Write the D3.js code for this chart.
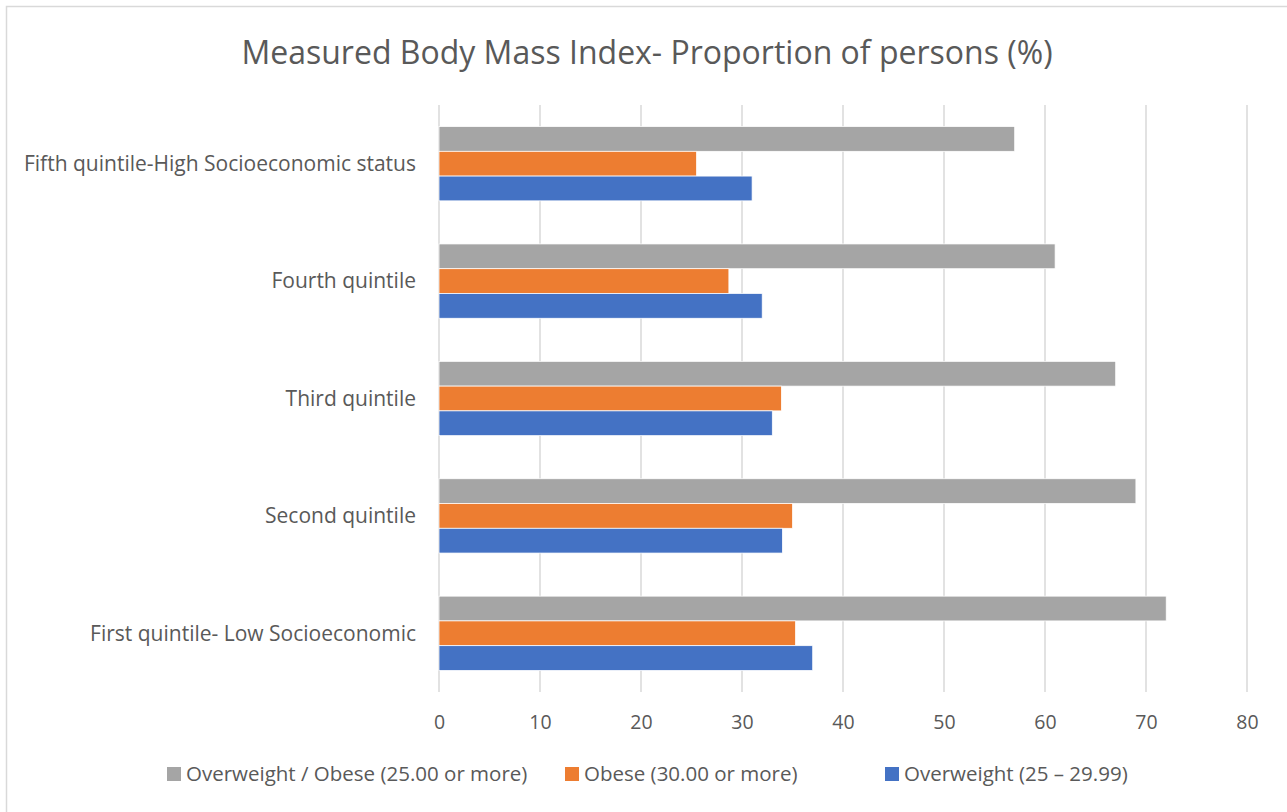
<!DOCTYPE html>
<html>
<head>
<meta charset="utf-8">
<script src="https://cdn.jsdelivr.net/npm/d3@7"></script>
<style>
  body { margin: 0; background: #fff; }
  svg text { font-family: "Open Sans", "Noto Sans", sans-serif; fill: #595959; }
</style>
</head>
<body>
<div id="chart"></div>
<script>
"use strict";

// categories, top to bottom as drawn
var categories = [
    "Fifth quintile-High Socioeconomic status",
    "Fourth quintile",
    "Third quintile",
    "Second quintile",
    "First quintile- Low Socioeconomic"
];
var seriesNames = [
    "Overweight / Obese (25.00 or more)",
    "Obese (30.00 or more)",
    "Overweight (25 \u2013 29.99)"
];
var seriesColors = ["#a5a5a5", "#ed7d31", "#4472c4"];
var overweightObese = [57, 61, 67, 69, 72];
var obese = [25.5, 28.7, 33.9, 35, 35.3];
var overweight = [31, 32, 33, 34, 37];
var xTicks = [0, 10, 20, 30, 40, 50, 60, 70, 80];

var W = 1287, H = 812;
var margin = { top: 105, right: 40, bottom: 120, left: 439 };
var width = 1247 - margin.left;
var height = 692 - margin.top;

var svg = d3.select("#chart").append("svg")
    .attr("width", W)
    .attr("height", H);

// chart border
svg.append("rect")
    .attr("x", 6.5).attr("y", 6.5)
    .attr("width", W + 10).attr("height", H + 10)
    .attr("fill", "none")
    .attr("stroke", "#d9d9d9")
    .attr("stroke-width", 1.5);

svg.append("text")
    .attr("x", 647)
    .attr("y", 64)
    .attr("text-anchor", "middle")
    .style("font-size", "32px")
    .text("Measured Body Mass Index- Proportion of persons (%)");

var g = svg.append("g")
    .attr("transform", "translate(" + margin.left + "," + margin.top + ")");

var x = d3.scaleLinear().domain([0, 80]).range([0, width]);
var y0 = d3.scaleBand().domain(categories).range([0, height]);
var y1 = d3.scaleBand().domain(seriesNames).range([0, y0.bandwidth()]).paddingOuter(0.87);

// gridlines
g.selectAll("line.grid")
    .data(xTicks)
    .enter()
    .append("line")
    .attr("class", "grid")
    .attr("x1", function(d) { return x(d); })
    .attr("x2", function(d) { return x(d); })
    .attr("y1", 0)
    .attr("y2", height)
    .attr("stroke", "#d9d9d9")
    .attr("stroke-width", 1.5);

var rows = categories.map(function(c, i) {
    return { cat: c, values: [overweightObese[i], obese[i], overweight[i]] };
});

var groups = g.selectAll("g.cat")
    .data(rows)
    .enter()
    .append("g")
    .attr("class", "cat")
    .attr("transform", function(d) { return "translate(0," + y0(d.cat) + ")"; });

groups.selectAll("rect")
    .data(function(d) { return d.values.map(function(v, j) { return { s: seriesNames[j], v: v, c: seriesColors[j] }; }); })
    .enter()
    .append("rect")
    .attr("x", x(0))
    .attr("y", function(d) { return y1(d.s); })
    .attr("width", function(d) { return x(d.v) - x(0); })
    .attr("height", y1.bandwidth())
    .attr("fill", function(d) { return d.c; })
    .attr("stroke", "#fff")
    .attr("stroke-width", 0.75);

// category labels
g.selectAll("text.cat")
    .data(categories)
    .enter()
    .append("text")
    .attr("class", "cat")
    .attr("x", -23)
    .attr("y", function(d) { return y0(d) + y0.bandwidth() / 2; })
    .attr("dy", "0.35em")
    .attr("text-anchor", "end")
    .style("font-size", "21px")
    .text(function(d) { return d; });

// x axis labels
var xAxis = d3.axisBottom(x).tickValues(xTicks).tickSize(0).tickPadding(23);
var ax = g.append("g")
    .attr("transform", "translate(0," + height + ")")
    .call(xAxis);
ax.select(".domain").remove();
ax.selectAll("text")
    .style("font-size", "19.5px")
    .style("font-family", "\"Open Sans\", \"Noto Sans\", sans-serif")
    .attr("fill", "#595959");

// legend
var legendX = [167, 565, 885];
var legend = svg.selectAll("g.legend")
    .data(seriesNames)
    .enter()
    .append("g")
    .attr("class", "legend")
    .attr("transform", function(d, i) { return "translate(" + legendX[i] + ",774)"; });

legend.append("rect")
    .attr("x", 0).attr("y", -7)
    .attr("width", 14).attr("height", 14)
    .attr("fill", function(d, i) { return seriesColors[i]; });

legend.append("text")
    .attr("x", 19)
    .attr("y", 0)
    .attr("dy", "0.35em")
    .style("font-size", "20.5px")
    .text(function(d) { return d; });
</script>
</body>
</html>
